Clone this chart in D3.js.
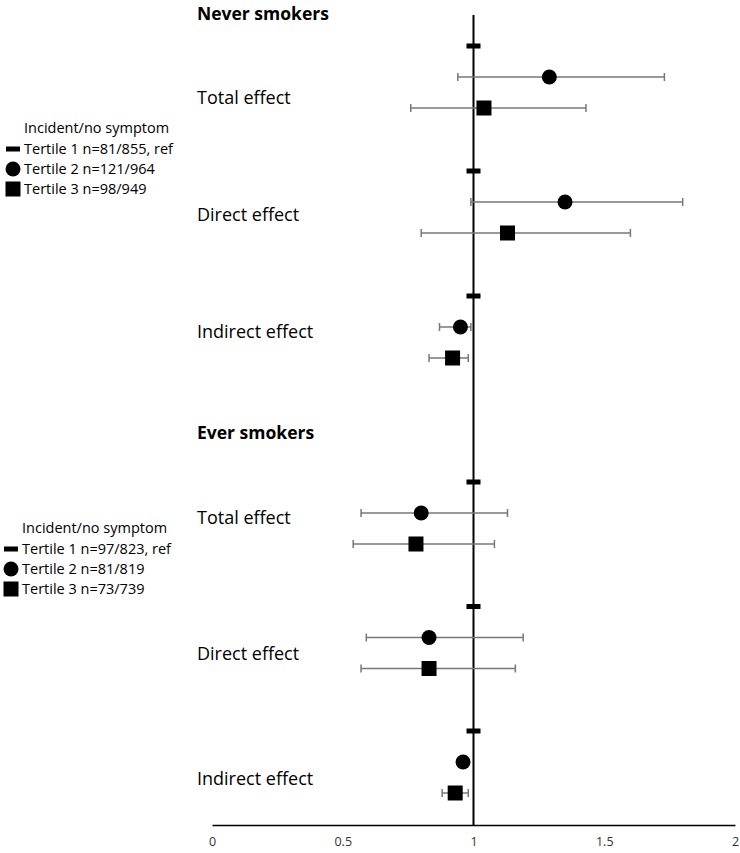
<!DOCTYPE html>
<html><head><meta charset="utf-8">
<script src="https://cdn.jsdelivr.net/npm/d3@7"></script>
<style>body{margin:0;background:#fff}svg{display:block}text{font-family:"Open Sans",sans-serif}</style>
</head><body>
<script>
const groups = ["Never smokers", "Ever smokers"];
const effects = ["Total effect", "Direct effect", "Indirect effect"];
const tertiles = ["Tertile 1", "Tertile 2", "Tertile 3"];
const legendNever = ["Tertile 1 n=81/855, ref", "Tertile 2 n=121/964", "Tertile 3 n=98/949"];
const legendEver = ["Tertile 1 n=97/823, ref", "Tertile 2 n=81/819", "Tertile 3 n=73/739"];
const estT2Never = [1.29, 1.35, 0.95];
const lowT2Never = [0.94, 0.99, 0.87];
const highT2Never = [1.73, 1.80, 0.99];
const estT3Never = [1.04, 1.13, 0.92];
const lowT3Never = [0.76, 0.80, 0.83];
const highT3Never = [1.43, 1.60, 0.98];
const estT2Ever = [0.80, 0.83, 0.96];
const lowT2Ever = [0.57, 0.59, 0.95];
const highT2Ever = [1.13, 1.19, 0.97];
const estT3Ever = [0.78, 0.83, 0.93];
const lowT3Ever = [0.54, 0.57, 0.88];
const highT3Ever = [1.08, 1.16, 0.98];
const refValue = 1;
const xTicks = [0, 0.5, 1, 1.5, 2];

const W = 740, H = 853;
const svg = d3.select("body").append("svg").attr("width", W).attr("height", H);
const x = d3.scaleLinear().domain([0, 2]).range([212, 735]);

function yPos(gi, ei, ti) {
  const gStart = [46, 482][gi];
  const effStep = [125, 124.5][gi];
  return gStart + ei * effStep + ti * 31;
}

const data = [];
[[estT2Never, lowT2Never, highT2Never, estT3Never, lowT3Never, highT3Never],
 [estT2Ever, lowT2Ever, highT2Ever, estT3Ever, lowT3Ever, highT3Ever]].forEach((arr, gi) => {
  effects.forEach((e, ei) => {
    data.push({gi, ei, ti: 0, est: refValue});
    data.push({gi, ei, ti: 1, est: arr[0][ei], lo: arr[1][ei], hi: arr[2][ei]});
    data.push({gi, ei, ti: 2, est: arr[3][ei], lo: arr[4][ei], hi: arr[5][ei]});
  });
});

const axisY = 825;
const ax = svg.append("g").attr("transform", `translate(0,${axisY})`)
  .call(d3.axisBottom(x).tickValues(xTicks).tickSize(0).tickPadding(12).tickFormat(d => String(d)));
ax.select(".domain").attr("stroke", "#000").attr("stroke-width", 1.5);
ax.selectAll("text").attr("font-size", 12.5).attr("fill", "#333").style("font-family", "'Open Sans', sans-serif");

svg.append("line").attr("x1", x(1)).attr("x2", x(1)).attr("y1", 15).attr("y2", axisY)
  .attr("stroke", "#000").attr("stroke-width", 2);

const eb = data.filter(d => d.lo !== undefined);
const g = svg.append("g");
eb.forEach(d => {
  const yy = yPos(d.gi, d.ei, d.ti);
  g.append("line").attr("x1", x(d.lo)).attr("x2", x(d.hi)).attr("y1", yy).attr("y2", yy)
    .attr("stroke", "#777").attr("stroke-width", 1.5);
  [d.lo, d.hi].forEach(v => g.append("line").attr("x1", x(v)).attr("x2", x(v)).attr("y1", yy - 4).attr("y2", yy + 4)
    .attr("stroke", "#777").attr("stroke-width", 1.5));
});
data.forEach(d => {
  const yy = yPos(d.gi, d.ei, d.ti);
  if (d.ti === 0) g.append("rect").attr("x", x(d.est) - 7).attr("y", yy - 2.5).attr("width", 14).attr("height", 5).attr("fill", "#000");
  else if (d.ti === 1) g.append("circle").attr("cx", x(d.est)).attr("cy", yy).attr("r", 7.5).attr("fill", "#000");
  else g.append("rect").attr("x", x(d.est) - 7.5).attr("y", yy - 7.5).attr("width", 15).attr("height", 15).attr("fill", "#000");
});

const titleY = [14, 433];
const labelY = [[98, 215, 332], [518, 654, 779]];
groups.forEach((gname, gi) => {
  svg.append("text").attr("x", 197).attr("y", titleY[gi]).attr("dy", "0.35em")
    .attr("font-size", 17.5).attr("font-weight", "bold").attr("fill", "#000").text(gname);
  effects.forEach((e, ei) => svg.append("text").attr("x", 197).attr("y", labelY[gi][ei]).attr("dy", "0.35em")
    .attr("font-size", 18).attr("fill", "#000").text(e));
});

function legend(items, x0, y0) {
  const lg = svg.append("g");
  lg.append("text").attr("x", x0 + 19).attr("y", y0).attr("dy", "0.35em").attr("font-size", 14.5).text("Incident/no symptom");
  items.forEach((t, i) => {
    const yy = y0 + 21 + i * 20;
    const cx = x0 + 8;
    if (i === 0) lg.append("rect").attr("x", cx - 7).attr("y", yy - 2.5).attr("width", 14).attr("height", 5);
    else if (i === 1) lg.append("circle").attr("cx", cx).attr("cy", yy).attr("r", 7.5);
    else lg.append("rect").attr("x", cx - 7.5).attr("y", yy - 7.5).attr("width", 15).attr("height", 15);
    lg.append("text").attr("x", x0 + 19).attr("y", yy).attr("dy", "0.35em").attr("font-size", 14.5).text(t);
  });
}
legend(legendNever, 5, 128);
legend(legendEver, 3, 528);
</script>
</body></html>
